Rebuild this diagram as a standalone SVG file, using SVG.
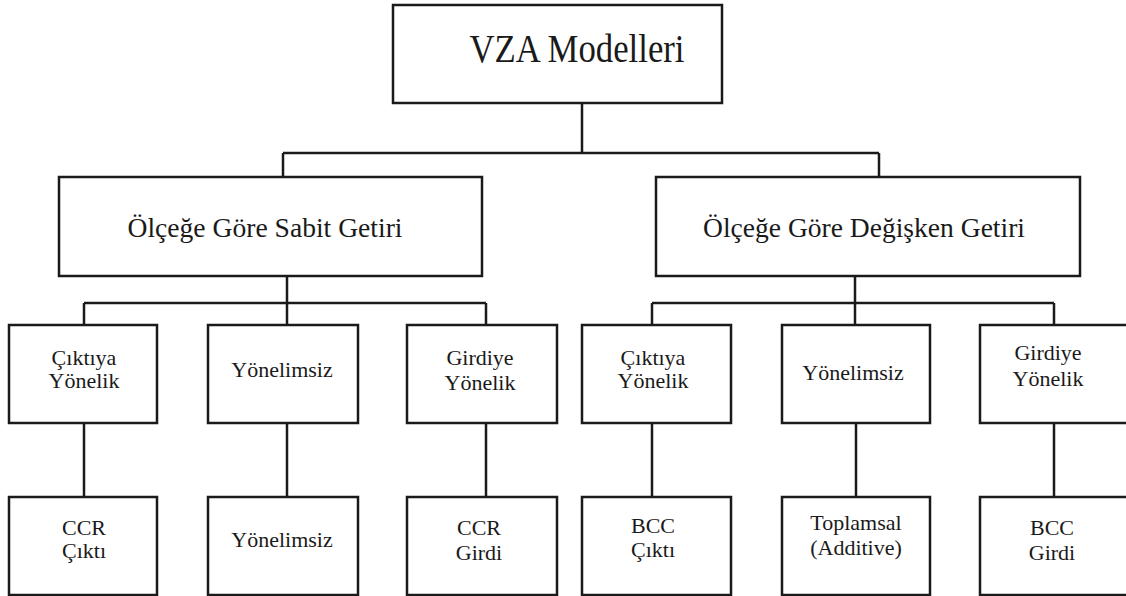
<svg xmlns="http://www.w3.org/2000/svg" width="1126" height="596" viewBox="0 0 1126 596">
<style>
.box{fill:#fff;stroke:#1a1a1a;stroke-width:2.5}
.ln{fill:none;stroke:#1a1a1a;stroke-width:2.5}
text{font-family:'Times New Roman','Liberation Serif',Times,serif;fill:#1a1a1a;text-anchor:middle}
.t1{font-size:40px}
.t2{font-size:27px}
.t3{font-size:22px}
</style>
<rect width="1126" height="596" fill="#fff"/>
<g id="connectors" class="ln">
<path d="M582 103V153M283 153H879M283 153V177M879 153V177"/>
<path d="M287 276V303M84 303H486M84 303V325M287 303V325M486 303V325"/>
<path d="M855 276V303M652 303H1054M652 303V325M855 303V325M1054 303V325"/>
<path d="M84 423V497M287 423V497M486 423V497M652 423V497M856 423V497M1054 423V497"/>
</g>
<g id="root"><rect class="box" x="393" y="5" width="329" height="98"/><text class="t1" x="577" y="62" textLength="215" lengthAdjust="spacingAndGlyphs">VZA Modelleri</text></g>
<g id="sabit"><rect class="box" x="59" y="177" width="423" height="99"/><text class="t2" x="265" y="237" textLength="275" lengthAdjust="spacingAndGlyphs">Ölçeğe Göre Sabit Getiri</text></g>
<g id="degisken"><rect class="box" x="656" y="177" width="424" height="99"/><text class="t2" x="864" y="237" textLength="322" lengthAdjust="spacingAndGlyphs">Ölçeğe Göre Değişken Getiri</text></g>
<g id="s-cikti"><rect class="box" x="9" y="325" width="148" height="98"/><text class="t3" x="84" y="365">Çıktıya</text><text class="t3" x="84" y="388">Yönelik</text></g>
<g id="s-yon"><rect class="box" x="208" y="325" width="150" height="98"/><text class="t3" x="282" y="377">Yönelimsiz</text></g>
<g id="s-girdi"><rect class="box" x="407" y="325" width="150" height="98"/><text class="t3" x="480" y="365">Girdiye</text><text class="t3" x="480" y="390">Yönelik</text></g>
<g id="d-cikti"><rect class="box" x="582" y="325" width="149" height="98"/><text class="t3" x="653" y="365">Çıktıya</text><text class="t3" x="653" y="388">Yönelik</text></g>
<g id="d-yon"><rect class="box" x="782" y="325" width="148" height="98"/><text class="t3" x="853" y="380">Yönelimsiz</text></g>
<g id="d-girdi"><rect class="box" x="980" y="325" width="150" height="98"/><text class="t3" x="1048" y="360">Girdiye</text><text class="t3" x="1048" y="386">Yönelik</text></g>
<g id="ccr-cikti"><rect class="box" x="9" y="497" width="148" height="98"/><text class="t3" x="84" y="535">CCR</text><text class="t3" x="84" y="558">Çıktı</text></g>
<g id="s-yon2"><rect class="box" x="208" y="497" width="150" height="98"/><text class="t3" x="282" y="547">Yönelimsiz</text></g>
<g id="ccr-girdi"><rect class="box" x="407" y="497" width="150" height="98"/><text class="t3" x="479" y="535">CCR</text><text class="t3" x="479" y="560">Girdi</text></g>
<g id="bcc-cikti"><rect class="box" x="582" y="497" width="149" height="98"/><text class="t3" x="653" y="533">BCC</text><text class="t3" x="653" y="557">Çıktı</text></g>
<g id="toplamsal"><rect class="box" x="782" y="497" width="148" height="98"/><text class="t3" x="856" y="530">Toplamsal</text><text class="t3" x="856" y="555">(Additive)</text></g>
<g id="bcc-girdi"><rect class="box" x="980" y="497" width="150" height="98"/><text class="t3" x="1052" y="535">BCC</text><text class="t3" x="1052" y="560">Girdi</text></g>
</svg>
